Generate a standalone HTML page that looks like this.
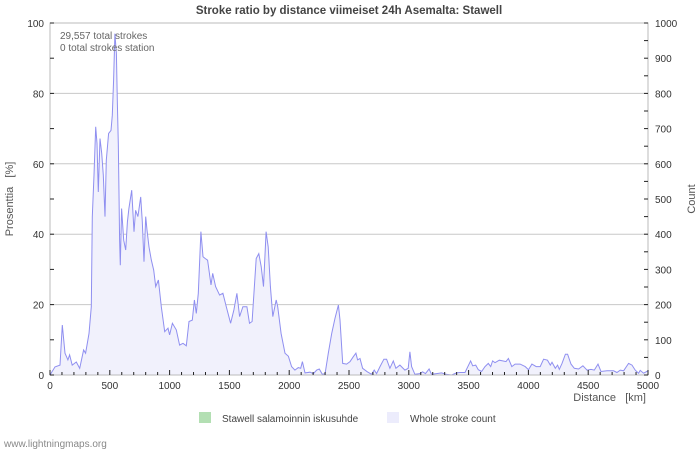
<!DOCTYPE html>
<html><head><meta charset="utf-8"><style>
body{margin:0;background:#fff;}
svg text{font-family:"Liberation Sans","DejaVu Sans",sans-serif;}
</style></head><body>
<svg id="chart" width="700" height="450" viewBox="0 0 700 450" xmlns="http://www.w3.org/2000/svg">
<rect width="700" height="450" fill="#fff"/>
<text x="349" y="14" text-anchor="middle" font-size="11.5" font-weight="bold" fill="#444">Stroke ratio by distance viimeiset 24h Asemalta: Stawell</text>
<g id="grid"></g>
<g id="series"></g>
<rect x="50" y="23" width="598" height="352" fill="none" stroke="#bbb"/>
<g id="axes"></g>
<text x="60" y="39" font-size="10" fill="#666">29,557 total strokes</text>
<text x="60" y="51" font-size="10" fill="#666">0 total strokes station</text>
<text transform="translate(13,199) rotate(-90)" text-anchor="middle" font-size="11" fill="#555">Prosenttia&#160;&#160;&#160;[%]</text>
<text transform="translate(695,199) rotate(-90)" text-anchor="middle" font-size="11" fill="#555">Count</text>
<text x="646" y="401" text-anchor="end" font-size="11" fill="#555">Distance&#160;&#160;&#160;[km]</text>
<g><rect x="199" y="412" width="12" height="11" fill="#b3dfb3"/><text x="222" y="422" font-size="10" fill="#444">Stawell salamoinnin iskusuhde</text></g>
<g><rect x="387" y="412" width="12" height="11" fill="#ececfc"/><text x="410" y="422" font-size="10" fill="#444">Whole stroke count</text></g>
<text x="4" y="447" font-size="10" fill="#888">www.lightningmaps.org</text>
</svg>
<script>
const xTicks=[0,500,1000,1500,2000,2500,3000,3500,4000,4500,5000];
const leftTicks=[0,20,40,60,80,100];
const rightTicks=[0,100,200,300,400,500,600,700,800,900,1000];
const distances=[0,42,84,103,125,150,164,186,220,248,281,298,326,345,354,368,382,393,404,418,432,446,460,471,490,510,521,532,543,555,563,571,577,582,588,599,616,633,647,660,683,702,716,735,758,772,786,800,811,828,847,867,884,906,931,959,987,1000,1023,1056,1084,1112,1140,1162,1190,1207,1223,1240,1262,1279,1298,1318,1346,1360,1385,1418,1446,1474,1510,1538,1563,1585,1613,1646,1668,1690,1724,1746,1766,1785,1807,1824,1843,1863,1891,1904,1932,1965,1993,2020,2048,2076,2096,2110,2132,2174,2202,2230,2252,2277,2300,2327,2355,2383,2411,2425,2447,2480,2508,2536,2558,2572,2592,2614,2653,2689,2711,2731,2759,2792,2814,2842,2870,2892,2926,2967,2995,3009,3023,3051,3092,3115,3140,3170,3190,3232,3274,3310,3358,3400,3428,3470,3517,3534,3559,3581,3609,3637,3665,3685,3701,3721,3757,3785,3813,3833,3861,3889,3931,3973,4001,4029,4065,4099,4127,4160,4183,4197,4225,4244,4258,4281,4309,4328,4356,4384,4420,4456,4490,4523,4551,4582,4607,4657,4712,4740,4768,4796,4838,4866,4893,4921,4935,4963,5000];
const counts=[0,23,28,142,62,43,57,28,37,19,71,62,118,194,450,568,705,658,520,672,630,568,450,610,686,695,738,838,970,913,780,658,515,383,312,473,383,355,435,473,525,407,468,450,506,435,322,450,412,364,327,298,251,270,194,123,133,114,147,128,85,90,83,152,156,213,175,232,407,336,331,326,256,289,251,227,232,194,147,185,232,166,194,194,147,152,331,345,308,251,407,364,251,166,213,194,118,62,53,24,14,21,19,38,6,8,4,14,17,2,4,62,118,161,199,156,33,31,38,52,62,43,47,19,9,2,14,4,24,45,45,19,40,19,28,14,19,66,24,2,4,9,4,17,2,4,6,2,0,6,7,7,40,26,28,15,10,24,33,24,40,35,42,40,38,47,24,31,31,24,15,31,24,24,45,42,28,36,19,28,16,33,59,59,31,19,17,26,14,16,14,31,10,12,12,7,14,12,33,28,14,5,13,5,12];
const ratios=[];
const X0=50,X1=648,Y0=375,Y1=23;
const xS=d=>X0+(d/5000)*(X1-X0);
const yL=v=>Y0-(v/100)*(Y0-Y1);
const yR=v=>Y0-(v/1000)*(Y0-Y1);
const NS="http://www.w3.org/2000/svg";
function mk(t,a,p){const e=document.createElementNS(NS,t);for(const k in a)e.setAttribute(k,a[k]);p.appendChild(e);return e;}
const grid=document.getElementById('grid'),axes=document.getElementById('axes'),series=document.getElementById('series');
leftTicks.forEach(v=>{if(v>0&&v<100){const l=mk('line',{x1:X0,x2:X1,y1:yL(v),y2:yL(v),stroke:'#c8c8c8'},grid);

}
const t=mk('text',{x:44,y:yL(v)+4,'text-anchor':'end','font-size':10,fill:'#333'},axes);t.textContent=v;

});
rightTicks.forEach(v=>{const t=mk('text',{x:655,y:yR(v)+4,'font-size':10,fill:'#333'},axes);t.textContent=v;

});
for(let v=0;v<=100;v+=10){const l=mk('line',{x1:X0,x2:X0+4,y1:yL(v),y2:yL(v),stroke:'#222'},axes);

}
for(let v=0;v<=1000;v+=50){const l=mk('line',{x1:X1-4,x2:X1,y1:yR(v),y2:yR(v),stroke:'#222'},axes);

}
for(let d=0;d<=5000;d+=100){const maj=d%500===0;const l=mk('line',{x1:xS(d),x2:xS(d),y1:Y0,y2:Y0-(maj?5:3),stroke:'#222'},axes);

}
xTicks.forEach(d=>{const t=mk('text',{x:xS(d),y:389,'text-anchor':'middle','font-size':10,fill:'#333'},axes);t.textContent=d;

});
let pts=distances.map((d,i)=>xS(d).toFixed(1)+','+yR(counts[i]).toFixed(1)).join(' ');
const area=mk('polygon',{points:xS(distances[0])+','+Y0+' '+pts+' '+xS(distances[distances.length-1])+','+Y0,fill:'#f1f1fc'},series);


const line=mk('polyline',{points:pts,fill:'none',stroke:'#8f8ff0','stroke-width':1},series);


</script>
</body></html>
